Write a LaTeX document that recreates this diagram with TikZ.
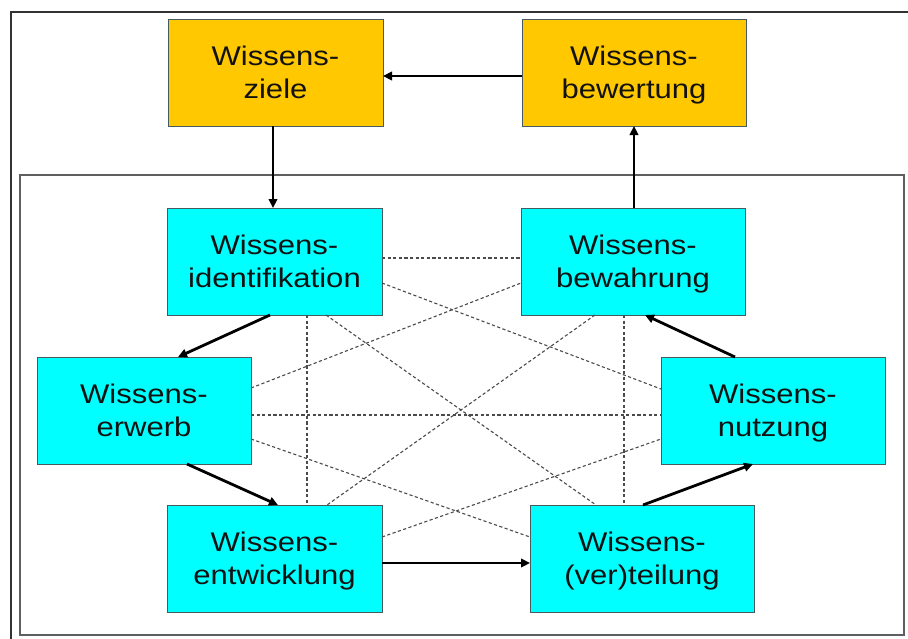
\documentclass[tikz,border=0pt]{standalone}
\usepackage{fontspec}
\setmainfont[FakeStretch=1.15]{Liberation Sans}
\usetikzlibrary{calc,arrows.meta}
\definecolor{gold}{RGB}{255,200,0}
\definecolor{aqua}{RGB}{0,255,255}
\definecolor{boxline}{RGB}{70,90,95}
\definecolor{frameline}{RGB}{50,50,50}
\definecolor{dashgray}{RGB}{75,75,75}
\definecolor{innerline}{RGB}{95,95,95}
\tikzset{
  box/.style={draw=boxline, line width=0.9pt, inner sep=0pt, outer sep=0pt, anchor=north west,
    align=center, text=black!93, font=\fontsize{27}{33}\selectfont, text depth=0pt},
  goldbox/.style={box, fill=gold},
  aquabox/.style={box, fill=aqua},
  flow/.style={line width=2.8pt, -{Triangle[length=9pt,width=8.5pt]}},
  link/.style={draw=dashgray, line width=1.1pt, dash pattern=on 3.2pt off 2.4pt},
}
\begin{document}
\begin{tikzpicture}[x=1pt,y=-1pt]
\useasboundingbox[fill=white] (0,0) rectangle (908,638);
% frames
\coordinate (ftl) at (11,12);
\coordinate (ftr) at (910,12);
\coordinate (fbl) at (11,640);
\draw[frameline, line width=2.6pt] (ftr) -- (ftl) -- (fbl);
\draw[innerline, line width=1.1pt] (20,175) rectangle (904,635);
% nodes
\node[goldbox, minimum width=215pt, minimum height=107pt] (zi) at (168,19) {Wissens-\\ziele};
\node[goldbox, minimum width=224pt, minimum height=107pt] (bt) at (522,19) {Wissens-\\bewertung};
\node[aquabox, minimum width=215pt, minimum height=107pt] (id) at (167,208) {Wissens-\\identifikation};
\node[aquabox, minimum width=224pt, minimum height=107pt] (bw) at (521,208) {Wissens-\\bewahrung};
\node[aquabox, minimum width=214pt, minimum height=107pt] (er) at (37,357) {Wissens-\\erwerb};
\node[aquabox, minimum width=224pt, minimum height=107pt] (nu) at (661,357) {Wissens-\\nutzung};
\node[aquabox, minimum width=215pt, minimum height=107pt] (en) at (167,505) {Wissens-\\entwicklung};
\node[aquabox, minimum width=224pt, minimum height=107pt] (ve) at (530,505) {Wissens-\\(ver)teilung};
% dashed links
\draw[link] ($(id.north east)+(0,50)$) -- ($(bw.north west)+(0,50)$);
\draw[link] ($(er.north east)+(0,58)$) -- ($(nu.north west)+(0,58)$);
\draw[link] ($(id.south west)+(140,0)$) -- ($(en.north west)+(140,0)$);
\draw[link] ($(bw.south west)+(103,0)$) -- ($(ve.north west)+(94,0)$);
\draw[link] ($(id.north east)+(0,75)$) -- ($(nu.north west)+(0,32)$);
\draw[link] ($(id.south west)+(159,0)$) -- ($(ve.north west)+(66,0)$);
\draw[link] ($(bw.south west)+(74,0)$) -- ($(en.north west)+(160,0)$);
\draw[link] ($(er.north east)+(0,31)$) -- ($(bw.north west)+(0,75)$);
\draw[link] ($(er.north east)+(0,82)$) -- ($(ve.north west)+(0,32)$);
\draw[link] ($(en.north east)+(0,32)$) -- ($(nu.north west)+(0,82)$);
% arrows
\draw[flow] ($(zi.south west)+(105,0)$) -- ($(id.north west)+(106,0)$);
\draw[flow] ($(bt.north west)+(0,57)$) -- ($(zi.north east)+(0,57)$);
\draw[flow] ($(bw.north west)+(113,0)$) -- ($(bt.south west)+(112,0)$);
\draw[flow] ($(id.south west)+(103,0)$) -- ($(er.north west)+(141,0)$);
\draw[flow] ($(er.south west)+(150,0)$) -- ($(en.north west)+(111,0)$);
\draw[flow] ($(en.north east)+(0,58)$) -- ($(ve.north west)+(0,58)$);
\draw[flow] ($(ve.north west)+(113,0)$) -- ($(nu.south west)+(92,0)$);
\draw[flow] ($(nu.north west)+(74,0)$) -- ($(bw.south west)+(124,0)$);
\end{tikzpicture}
\end{document}
